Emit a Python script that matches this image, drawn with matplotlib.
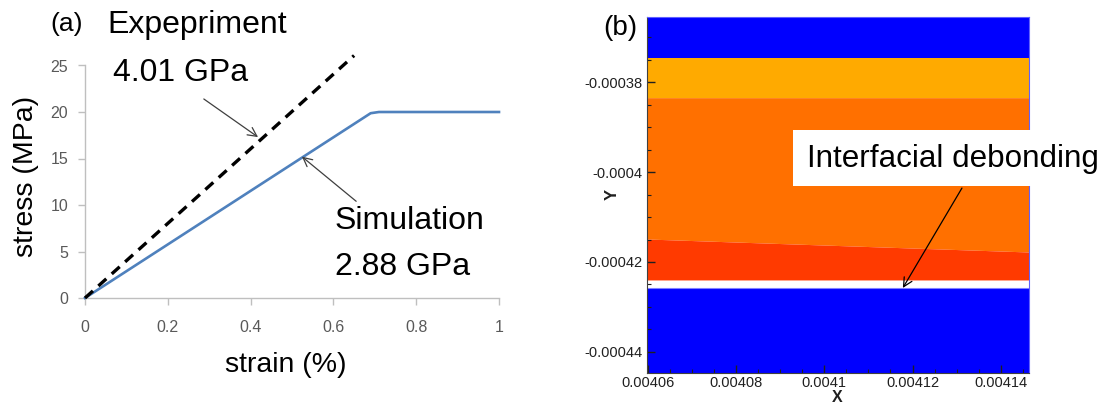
import matplotlib
matplotlib.use("Agg")
import matplotlib.pyplot as plt
from matplotlib.ticker import AutoMinorLocator
from matplotlib.patches import Rectangle

plt.rcParams['font.family'] = ['Liberation Sans', 'DejaVu Sans']

# ---------------- data: (a) stress-strain curves ----------------
strain_expt = [0.0, 0.65]
stress_expt = [0.0, 26.07]          # slope 4.01 GPa
strain_sim = [0.0, 0.69, 0.71, 1.0]
stress_sim = [0.0, 19.87, 20.0, 20.0]  # slope 2.88 GPa, then plateau
xticks_a = [0, 0.2, 0.4, 0.6, 0.8, 1.0]
xticklabels_a = ['0', '0.2', '0.4', '0.6', '0.8', '1']
yticks_a = [0, 5, 10, 15, 20, 25]

# ---------------- data: (b) layered contour bands ----------------
x_span = [0.0040598, 0.0041464]
y_top = -0.0003655
y_bottom = -0.0004447
top_blue_low = [-0.00037467, -0.00037467]
yellow_low = [-0.00038344, -0.00038344]
orange_low = [-0.00041489, -0.00041778]
red_low = [-0.00042400, -0.00042400]
bottom_blue_high = [-0.00042589, -0.00042589]
xticks_b = [0.00406, 0.00408, 0.0041, 0.00412, 0.00414]
xticklabels_b = ['0.00406', '0.00408', '0.0041', '0.00412', '0.00414']
yticks_b = [-0.00038, -0.0004, -0.00042, -0.00044]
yticklabels_b = ['-0.00038', '-0.0004', '-0.00042', '-0.00044']

W, H = 1107, 403
fig = plt.figure(figsize=(W / 100, H / 100), dpi=100)


def fx(x):
    return x / W


def fy(y):
    return 1 - y / H


# ================= panel (a) =================
ax_a = fig.add_axes([fx(85), fy(298), 414 / W, 232.5 / H])
ax_a.plot(strain_sim, stress_sim, color='#4F81BD', lw=1.9, solid_joinstyle='round',
          clip_on=False, zorder=3)
ax_a.plot(strain_expt, stress_expt, color='black', lw=2.4, dashes=(3.2, 2.2),
          clip_on=False, zorder=4)
ax_a.set_xlim(0, 1)
ax_a.set_ylim(0, 25)
ax_a.set_xticks(xticks_a)
ax_a.set_xticklabels(xticklabels_a)
ax_a.set_yticks(yticks_a)
for s in ['top', 'right']:
    ax_a.spines[s].set_visible(False)
for s in ['left', 'bottom']:
    ax_a.spines[s].set_color('#BFBFBF')
    ax_a.spines[s].set_linewidth(1.0)
ax_a.tick_params(axis='both', direction='out', length=5, width=1.0, color='#BFBFBF',
                 labelcolor='#595959', labelsize=11.5)
ax_a.tick_params(axis='y', pad=7)
ax_a.tick_params(axis='x', pad=11)

fig.text(fx(26), fy(176), 'stress (MPa)', rotation=90, ha='center', va='center',
         fontsize=20.5)
fig.text(fx(286), fy(365), 'strain (%)', ha='center', va='center', fontsize=20.5)

fig.text(fx(50), fy(31), '(a)', ha='left', va='baseline', fontsize=19)
fig.text(fx(107), fy(33), 'Expepriment', ha='left', va='baseline', fontsize=23)
fig.text(fx(113), fy(81), '4.01 GPa', ha='left', va='baseline', fontsize=23)
fig.text(fx(335), fy(229), 'Simulation', ha='left', va='baseline', fontsize=23)
fig.text(fx(335), fy(275), '2.88 GPa', ha='left', va='baseline', fontsize=23)

arrow_kw = dict(arrowstyle='->', color='#3F3F3F', lw=0.9, mutation_scale=16,
                shrinkA=0, shrinkB=0)
ax_a.annotate('', xy=(0.418, 17.3), xytext=(0.287, 21.4), arrowprops=arrow_kw,
              annotation_clip=False)
ax_a.annotate('', xy=(0.524, 15.2), xytext=(0.655, 10.4), arrowprops=arrow_kw,
              annotation_clip=False)

# ================= panel (b) =================
ax_b = fig.add_axes([fx(647), fy(373), 382 / W, 356 / H])
ax_b.set_facecolor('white')
ax_b.fill_between(x_span, top_blue_low, [y_top, y_top], color='#0000FF', lw=0)
ax_b.fill_between(x_span, yellow_low, top_blue_low, color='#FFAA00', lw=0)
ax_b.fill_between(x_span, orange_low, yellow_low, color='#FF7000', lw=0)
ax_b.fill_between(x_span, red_low, orange_low, color='#FF3A00', lw=0)
ax_b.fill_between(x_span, [y_bottom, y_bottom], bottom_blue_high, color='#0000FF', lw=0)
ax_b.plot(x_span, bottom_blue_high, color='#8080FF', lw=0.8)
ax_b.set_xlim(x_span)
ax_b.set_ylim(y_bottom, y_top)
ax_b.set_xticks(xticks_b)
ax_b.set_xticklabels(xticklabels_b)
ax_b.set_yticks(yticks_b)
ax_b.set_yticklabels(yticklabels_b)
ax_b.xaxis.set_minor_locator(AutoMinorLocator(4))
ax_b.yaxis.set_minor_locator(AutoMinorLocator(4))
ax_b.tick_params(which='major', direction='in', length=6, width=1.0, color='#202020',
                 labelsize=10.5, labelcolor='#202020', pad=3)
ax_b.tick_params(axis='x', which='major', pad=2.5)
ax_b.tick_params(which='minor', direction='in', length=3, width=0.8, color='#202020')
for s in ax_b.spines.values():
    s.set_linewidth(0.8)
    s.set_color('#404040')
ax_b.spines['top'].set_color('#6060FF')
ax_b.spines['right'].set_color('#6060FF')

fig.text(fx(612), fy(194), 'Y', rotation=90, ha='center', va='center', fontsize=12,
         fontweight='bold', color='#202020')
fig.text(fx(837), fy(402), 'X', ha='center', va='baseline', fontsize=11.5,
         fontweight='bold', color='#202020')
fig.text(fx(603), fy(35), '(b)', ha='left', va='baseline', fontsize=20)

# white label box over the contour
box = Rectangle((fx(793), fy(186)), fx(1107) - fx(793), fy(130) - fy(186),
                transform=fig.transFigure, facecolor='white', edgecolor='none',
                zorder=5)
fig.patches.append(box)
fig.text(fx(807), fy(167), 'Interfacial debonding', ha='left', va='baseline',
         fontsize=22.6, zorder=6)
ax_b.annotate('', xy=(0.0041178, -0.00042578), xytext=(0.0041312, -0.00040356),
              arrowprops=dict(arrowstyle='->', color='black', lw=0.9,
                              mutation_scale=16, shrinkA=0, shrinkB=0),
              annotation_clip=False, zorder=7)

fig.savefig('out.png', dpi=100)
